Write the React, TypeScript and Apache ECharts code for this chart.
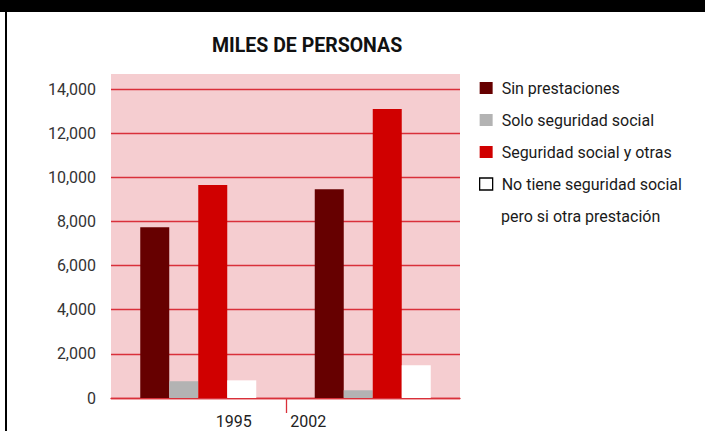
import React, { useEffect, useRef } from "react";
import * as echarts from "echarts";

const categories = ["1995", "2002"];
const seriesNames = [
  "Sin prestaciones",
  "Solo seguridad social",
  "Seguridad social y otras",
  "No tiene seguridad social pero si otra prestación",
];
const sinPrestaciones = [7740, 9460];
const soloSeguridad = [760, 350];
const seguridadYOtras = [9650, 13090];
const noTieneSeguridad = [800, 1480];
const yTicks = { min: 0, max: 14000, interval: 2000 };

const colors = ["#660000", "#b3b3b3", "#d00000", "#ffffff"];
const PINK = "#f5cdd0";
const RED_LINE = "#d9303a";
const FONT = "Roboto";

export default function App() {
  const ref = useRef<HTMLDivElement>(null);
  useEffect(() => {
    document.body.style.margin = "0";
    const chart = echarts.init(ref.current!, null, { renderer: "svg" });
    const values = [sinPrestaciones, soloSeguridad, seguridadYOtras, noTieneSeguridad];
    chart.setOption({
      animation: false,
      backgroundColor: "#ffffff",
      title: {
        text: "MILES DE PERSONAS",
        left: 212,
        top: 35,
        padding: 0,
        textStyle: { fontFamily: FONT, fontSize: 19.5, fontWeight: "bold", color: "#111" },
      },
      grid: {
        left: 111,
        right: 245,
        top: 89,
        bottom: 33,
        show: true,
        backgroundColor: PINK,
        borderWidth: 0,
      },
      legend: {
        orient: "vertical",
        left: 479,
        top: 80,
        padding: 0,
        itemGap: 16,
        itemWidth: 13,
        itemHeight: 12,
        icon: "rect",
        selectedMode: false,
        formatter: (name: string) =>
          name.startsWith("No tiene") ? "No tiene seguridad social" : name,
        textStyle: {
          fontFamily: FONT,
          fontSize: 16,
          lineHeight: 16,
          color: "#1a1a1a",
          padding: [0, 0, 0, 4],
        },
        data: seriesNames.map((n, i) =>
          i === 3
            ? { name: n, itemStyle: { color: "#ffffff", borderColor: "#000", borderWidth: 1.3 } }
            : { name: n }
        ),
      },
      xAxis: {
        type: "category",
        data: categories,
        boundaryGap: true,
        axisLine: { show: true, lineStyle: { color: RED_LINE, width: 1.3 } },
        axisTick: { show: false },
        axisLabel: {
          interval: 0,
          margin: 15,
          formatter: (v: string) => (v === categories[0] ? `{a|${v}}` : `{b|${v}}`),
          rich: {
            a: { fontFamily: FONT, fontSize: 16, color: "#222", padding: [0, 0, 0, 71] },
            b: { fontFamily: FONT, fontSize: 16, color: "#222", padding: [0, 129, 0, 0] },
          },
        },
      },
      yAxis: {
        type: "value",
        min: yTicks.min,
        max: yTicks.max,
        interval: yTicks.interval,
        axisLine: { show: false },
        axisTick: { show: false },
        axisLabel: {
          margin: 15,
          fontFamily: FONT,
          fontSize: 16,
          color: "#333",
          formatter: (v: number) => v.toLocaleString("en-US"),
        },
        splitLine: { show: true, lineStyle: { color: RED_LINE, width: 1.3 } },
      },
      series: seriesNames.map((n, i) => ({
        name: n,
        type: "bar",
        data: values[i],
        barWidth: 29,
        barGap: "0%",
        itemStyle: { color: colors[i] },
      })),
      graphic: [
        { id: "topbar", type: "rect", shape: { x: 0, y: 0, width: 705, height: 12 }, style: { fill: "#000" } },
        { id: "leftbar", type: "rect", shape: { x: 5, y: 12, width: 2, height: 419 }, style: { fill: "#000" } },
        { id: "pinktop", type: "rect", shape: { x: 111, y: 74, width: 349, height: 15 }, style: { fill: PINK }, z: -1 },
        {
          id: "legend2",
          type: "text",
          x: 501,
          y: 216,
          style: {
            text: "pero si otra prestación",
            fontFamily: FONT,
            fontSize: 16,
            fill: "#1a1a1a",
            verticalAlign: "middle",
          },
        },
      ],
    });
    const x0 = chart.convertToPixel({ xAxisIndex: 0 }, categories[0]) as number;
    const x1 = chart.convertToPixel({ xAxisIndex: 0 }, categories[1]) as number;
    const y0 = chart.convertToPixel({ yAxisIndex: 0 }, 0) as number;
    const mid = Math.round((x0 + x1) / 2) + 0.5;
    chart.setOption({
      graphic: [
        {
          id: "midtick",
          type: "line",
          shape: { x1: mid, y1: y0, x2: mid, y2: y0 + 15 },
          style: { stroke: RED_LINE, lineWidth: 1.3 },
        },
      ],
    });
    return () => chart.dispose();
  }, []);
  return <div ref={ref} style={{ width: 705, height: 431 }} />;
}
